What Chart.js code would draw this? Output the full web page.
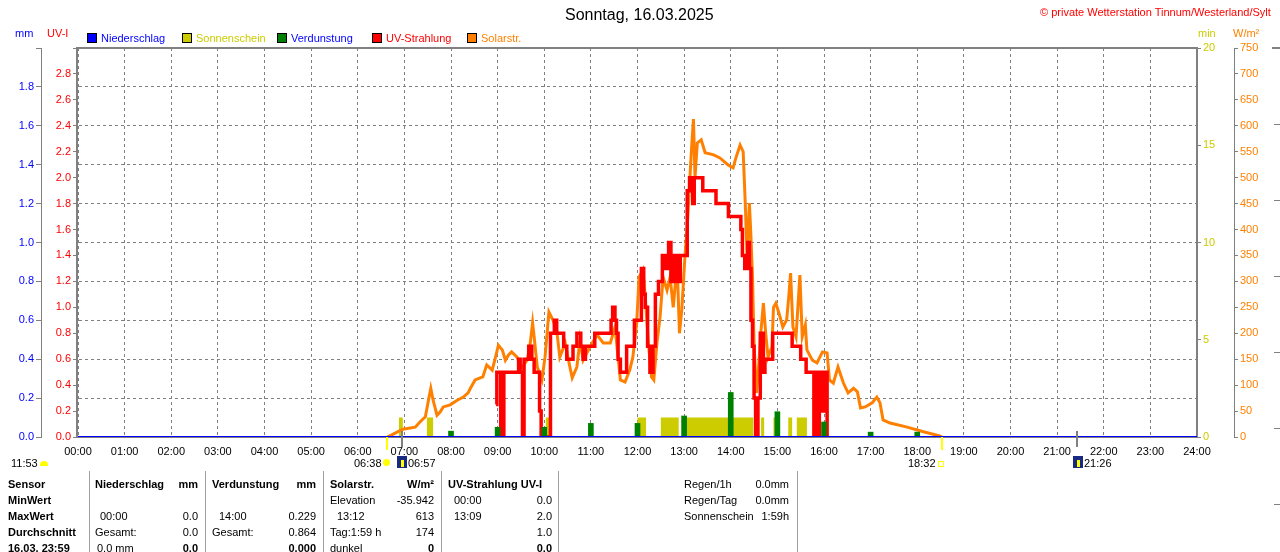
<!DOCTYPE html>
<html lang="de">
<head>
<meta charset="UTF-8">
<title>Sonntag, 16.03.2025</title>
<script src="https://cdn.jsdelivr.net/npm/chart.js"></script>
<style>
    body { margin: 0; background: #fff; font-family: 'Liberation Sans', Arial, sans-serif; font-size: 11px; color: #000; }
    #wrap { position: relative; width: 1280px; height: 552px; overflow: hidden; }
    #wrap canvas { position: absolute; left: 0; top: 0; }
    .t { position: absolute; white-space: nowrap; line-height: 14px; height: 14px; }
    .b { font-weight: bold; }
    .r { transform: translateX(-100%); }
    .box { position: absolute; top: 33px; width: 8px; height: 8px; border: 1px solid #000; }
    .sep { position: absolute; top: 471px; width: 1px; height: 81px; background: #a0a0a0; }
    .deco { position: absolute; background: #808080; }
</style>
</head>
<body>
<div id="wrap">
    <canvas id="chart" width="1280" height="552"></canvas>
</div>

<script>
    // Niederschlag (mm), hourly
    const rainTimes = ['00:00', '01:00', '02:00', '03:00', '04:00', '05:00', '06:00', '07:00', '08:00', '09:00', '10:00', '11:00', '12:00',
        '13:00', '14:00', '15:00', '16:00', '17:00', '18:00', '19:00', '20:00', '21:00', '22:00', '23:00', '24:00'];
    const rainValues = [0, 0, 0, 0, 0, 0, 0, 0, 0, 0, 0, 0, 0, 0, 0, 0, 0, 0, 0, 0, 0, 0, 0, 0, 0];

    // Verdunstung (mm), hourly
    const evapTimes = ['08:00', '09:00', '10:00', '11:00', '12:00', '13:00', '14:00', '15:00', '16:00', '17:00', '18:00'];
    const evapValues = [0.03, 0.05, 0.05, 0.07, 0.07, 0.108, 0.229, 0.13, 0.077, 0.025, 0.025];

    // Sonnenschein (min), value holds from the given time on
    const sunTimes = ['00:00', '06:53', '06:58', '07:29', '07:37', '10:02', '10:07', '12:00', '12:11', '12:30', '12:53', '12:57',
        '14:29', '14:39', '14:43', '14:55', '15:02', '15:14', '15:19', '15:25', '15:38', '24:00'];
    const sunValues = [0, 1, 0, 1, 0, 1, 0, 1, 0, 1, 0, 1, 0, 1, 0, 1, 0, 1, 0, 1, 0, 0];

    // UV-Strahlung (UV-I), value holds from the given time on
    const uvTimes = ['08:58', '08:59', '09:04', '09:08', '09:27', '09:29', '09:32', '09:34', '09:40', '09:44',
        '09:47', '09:54', '09:56', '10:08', '10:13', '10:16', '10:25', '10:29', '10:37', '10:42',
        '10:47', '10:50', '10:53', '11:05', '11:26', '11:28', '11:31', '11:33', '11:35', '11:38',
        '11:46', '11:56', '12:05', '12:08', '12:10', '12:13', '12:16', '12:20', '12:23', '12:27',
        '12:32', '12:36', '12:40', '12:43', '12:47', '12:51', '12:55', '13:04', '13:07', '13:11',
        '13:13', '13:24', '13:41', '13:57', '14:13', '14:15', '14:18', '14:22', '14:24', '14:26',
        '14:28', '14:30', '14:32', '14:35', '14:38', '14:42', '14:44', '14:54', '15:19', '15:30',
        '15:37', '15:47', '15:49', '15:52', '15:54', '15:58', '16:00', '16:04'];
    const uvValues = [0.25, 0.5, 0, 0.5, 0.6, 0.5, 0, 0.6, 0.7, 0.6,
        0.5, 0.2, 0, 0.8, 0.9, 0.8, 0.7, 0.6, 0.7, 0.8,
        0.7, 0.6, 0.7, 0.8, 0.9, 1.0, 0.9, 0.8, 0.6, 0.5,
        0.7, 0.9, 1.3, 1.1, 1.0, 0.7, 0.5, 0.7, 1.1, 1.2,
        1.4, 1.3, 1.5, 1.2, 1.4, 1.2, 1.4, 1.9, 2.0, 1.8,
        2.0, 1.9, 1.8, 1.7, 1.6, 1.4, 1.3, 1.5, 1.3, 0.9,
        0.7, 0.3, 0, 0.3, 0.8, 0.5, 0.6, 0.8, 0.7, 0.6,
        0.5, 0, 0.5, 0, 0.5, 0.2, 0.5, 0];

    // Solarstrahlung (W/m²)
    const solarTimes = ['06:38', '06:45', '06:58', '07:14', '07:20', '07:27', '07:31', '07:34', '07:37', '07:42',
        '07:46', '07:50', '07:59', '08:08', '08:16', '08:22', '08:25', '08:31', '08:41', '08:46',
        '08:53', '08:57', '09:01', '09:06', '09:10', '09:14', '09:18', '09:25', '09:31', '09:38',
        '09:42', '09:45', '09:47', '09:51', '09:57', '10:01', '10:06', '10:11', '10:16', '10:20',
        '10:27', '10:33', '10:36', '10:42', '10:46', '10:50', '10:59', '11:08', '11:16', '11:25',
        '11:31', '11:38', '11:44', '11:50', '11:54', '11:59', '12:02', '12:07', '12:10', '12:14',
        '12:18', '12:21', '12:25', '12:29', '12:33', '12:38', '12:42', '12:46', '12:51', '12:54',
        '12:57', '13:01', '13:04', '13:08', '13:10', '13:12', '13:14', '13:17', '13:22', '13:27',
        '13:38', '13:46', '13:57', '14:03', '14:07', '14:12', '14:16', '14:19', '14:21', '14:24',
        '14:26', '14:28', '14:30', '14:33', '14:35', '14:39', '14:42', '14:45', '14:48', '14:53',
        '14:55', '14:58', '15:02', '15:07', '15:12', '15:15', '15:17', '15:20', '15:24', '15:29',
        '15:32', '15:36', '15:38', '15:45', '15:51', '15:58', '16:04', '16:07', '16:12', '16:18',
        '16:25', '16:31', '16:38', '16:43', '16:47', '16:53', '17:02', '17:08', '17:12', '17:16',
        '17:25', '17:47', '18:08', '18:29', '18:32'];
    const solarValues = [0, 5, 15, 19, 29, 39, 71, 94, 71, 42,
        48, 58, 62, 71, 77, 85, 94, 110, 116, 139,
        129, 152, 177, 168, 148, 158, 164, 154, 133, 148,
        181, 220, 193, 135, 110, 154, 241, 226, 206, 154,
        181, 135, 114, 135, 187, 148, 174, 197, 181, 181,
        212, 110, 106, 129, 154, 220, 308, 322, 270, 181,
        116, 110, 181, 231, 308, 283, 308, 250, 335, 200,
        245, 347, 405, 515, 567, 613, 501, 567, 573, 548,
        544, 538, 524, 519, 540, 563, 550, 438, 341, 451,
        386, 308, 181, 85, 116, 206, 258, 200, 154, 174,
        250, 258, 239, 212, 226, 277, 316, 212, 193, 312,
        193, 216, 168, 148, 143, 164, 162, 110, 104, 135,
        104, 85, 94, 87, 56, 58, 66, 77, 66, 33,
        27, 19, 10, 2, 0];

    // Sonnen- und Mondauf-/untergang
    const riseSetTimes = ['06:38', '06:57', '18:32', '21:26'];
    const riseSetKinds = ['sun', 'moon', 'sun', 'moon'];

    const hm = s => { const p = s.split(':'); return +p[0] + p[1] / 60; };
    const pts = (times, vals) => times.map((t, i) => ({ x: hm(t), y: vals[i] }));

    // grey frame around the plot area
    const frame = {
        id: 'frame',
        beforeDatasetsDraw(chart) {
            const { ctx, chartArea: a } = chart;
            ctx.save();
            ctx.strokeStyle = '#808080';
            ctx.lineWidth = 2;
            ctx.strokeRect(a.left - 1, a.top, a.right - a.left + 1, a.bottom - a.top);
            ctx.restore();
        }
    };

    // small marks under the time axis for sunrise/sunset and moon
    const riseSet = {
        id: 'riseSet',
        afterDraw(chart) {
            const { ctx, chartArea: a, scales } = chart;
            ctx.save();
            ctx.lineWidth = 2;
            riseSetTimes.forEach((t, i) => {
                const x = Math.round(scales.x.getPixelForValue(hm(t)));
                const sun = riseSetKinds[i] === 'sun';
                ctx.strokeStyle = sun ? '#ffff00' : '#808080';
                ctx.beginPath();
                ctx.moveTo(x, a.bottom - (sun ? 0 : 6));
                ctx.lineTo(x, a.bottom + (sun ? 13 : 10));
                ctx.stroke();
            });
            ctx.restore();
        }
    };

    Chart.defaults.font.family = "'Liberation Sans', Arial, sans-serif";
    Chart.defaults.font.size = 11;

    new Chart(document.getElementById('chart'), {
        type: 'line',
        data: {
            datasets: [{
                label: 'Niederschlag',
                data: pts(rainTimes, rainValues),
                yAxisID: 'yMm',
                borderColor: '#0000ff',
                borderWidth: 2,
                pointRadius: 0,
                order: 0
            }, {
                type: 'bar',
                label: 'Verdunstung',
                data: pts(evapTimes, evapValues),
                yAxisID: 'yMm',
                backgroundColor: '#008000',
                barThickness: 5,
                order: 1
            }, {
                label: 'UV-Strahlung',
                data: pts(uvTimes, uvValues),
                yAxisID: 'yUv',
                borderColor: '#ff0000',
                borderWidth: 3.5,
                stepped: true,
                pointRadius: 0,
                order: 2
            }, {
                label: 'Solarstr.',
                data: pts(solarTimes, solarValues),
                yAxisID: 'yW',
                borderColor: '#ff8000',
                borderWidth: 3,
                pointRadius: 0,
                order: 3
            }, {
                label: 'Sonnenschein',
                data: pts(sunTimes, sunValues),
                yAxisID: 'yMin',
                borderWidth: 0,
                backgroundColor: '#cccc00',
                fill: 'origin',
                stepped: true,
                pointRadius: 0,
                order: 4
            }]
        },
        options: {
            responsive: false,
            animation: false,
            devicePixelRatio: 1,
            layout: { padding: { top: 48, left: 0, right: 0, bottom: 0 } },
            plugins: { legend: { display: false }, tooltip: { enabled: false } },
            scales: {
                x: {
                    type: 'linear',
                    offset: false,
                    min: 0,
                    max: 24,
                    ticks: {
                        stepSize: 1, autoSkip: false, maxRotation: 0, color: '#000', padding: 8,
                        callback: v => String(v).padStart(2, '0') + ':00'
                    },
                    grid: { color: '#808080', drawTicks: false, offset: false },
                    border: { display: false, dash: [3, 3] },
                    afterFit: s => { s.height = 115; }
                },
                yMm: {
                    position: 'left',
                    weight: 2,
                    min: 0,
                    max: 2,
                    ticks: { stepSize: 0.2, color: '#0000ff', padding: 2, callback: v => v > 1.95 ? '' : v.toFixed(1) },
                    grid: { color: '#808080', tickColor: '#808080', tickLength: 5 },
                    border: { display: true, color: '#808080', dash: [3, 3] },
                    afterFit: s => { s.width = 41; }
                },
                yUv: {
                    position: 'left',
                    weight: 1,
                    min: 0,
                    max: 3,
                    ticks: { stepSize: 0.2, color: '#ff0000', padding: 2, callback: v => v > 2.95 ? '' : v.toFixed(1) },
                    grid: { drawOnChartArea: false, tickColor: '#808080', tickLength: 5 },
                    border: { display: false },
                    afterFit: s => { s.width = 37; }
                },
                yMin: {
                    position: 'right',
                    weight: 1,
                    min: 0,
                    max: 20,
                    ticks: { stepSize: 5, color: '#cccc00', padding: 2 },
                    grid: { drawOnChartArea: false, tickColor: '#808080', tickLength: 4 },
                    border: { display: false },
                    afterFit: s => { s.width = 37; }
                },
                yW: {
                    position: 'right',
                    weight: 2,
                    min: 0,
                    max: 750,
                    ticks: { stepSize: 50, color: '#ff8000', padding: 2 },
                    grid: { drawOnChartArea: false, tickColor: '#808080', tickLength: 4 },
                    border: { display: true, color: '#808080' },
                    afterFit: s => { s.width = 46; }
                }
            }
        },
        plugins: [frame, riseSet]
    });

    // ---- texts around the chart ----
    const page = document.getElementById('wrap');

    function put(x, y, s, cls, color) {
        const d = document.createElement('div');
        d.className = 't ' + (cls || '');
        d.style.left = x + 'px';
        d.style.top = (y - 7) + 'px';
        if (color) d.style.color = color;
        d.textContent = s;
        page.appendChild(d);
        return d;
    }

    function block(cls, x, y, w, h, css) {
        const d = document.createElement('div');
        d.className = cls;
        d.style.left = x + 'px';
        d.style.top = y + 'px';
        if (w) d.style.width = w + 'px';
        if (h) d.style.height = h + 'px';
        Object.assign(d.style, css || {});
        page.appendChild(d);
        return d;
    }

    // title + copyright
    put(565, 15, 'Sonntag, 16.03.2025').style.fontSize = '16px';
    put(1040, 12, '© private Wetterstation Tinnum/Westerland/Sylt', '', '#ff0000');

    // axis titles
    put(15, 33, 'mm', '', '#0000ff');
    put(47, 33, 'UV-I', '', '#ff0000');
    put(1198, 33, 'min', '', '#cccc00');
    put(1233, 33, 'W/m²', '', '#ff8000');

    // legend
    [[87, '#0000ff', 'Niederschlag', '#0000ff'],
     [182, '#cccc00', 'Sonnenschein', '#cccc00'],
     [277, '#008000', 'Verdunstung', '#0000ff'],
     [372, '#ff0000', 'UV-Strahlung', '#ff0000'],
     [467, '#ff8000', 'Solarstr.', '#ff8000']].forEach(([x, fill, txt, col]) => {
        block('box', x, 33, 0, 0, { background: fill });
        put(x + 14, 38, txt, '', col);
    });

    // sun / moon row
    put(11, 463, '11:53');
    block('deco', 40, 461, 8, 5, { background: '#ffff00', borderRadius: '4px 4px 0 0' });
    put(354, 463, '06:38');
    block('deco', 383, 459, 7, 7, { background: '#ffff00', borderRadius: '50%' });
    block('deco', 397, 456, 10, 12, { background: '#1a2a80' });
    block('deco', 401, 460, 3, 7, { background: '#ffff00' });
    put(408, 463, '06:57');
    put(908, 463, '18:32');
    block('deco', 938, 461, 4, 4, { background: 'transparent', border: '1px solid #ffff00' });
    block('deco', 1073, 456, 10, 12, { background: '#1a2a80' });
    block('deco', 1077, 460, 3, 7, { background: '#ffff00' });
    put(1084, 463, '21:26');

    // far right edge remains
    block('deco', 1272, 47, 8, 2);
    [124, 200, 276, 352, 428, 504].forEach(y => block('deco', 1274, y, 6, 1));

    // table
    const rows = [484, 500, 516, 532, 548];
    ['Sensor', 'MinWert', 'MaxWert', 'Durchschnitt', '16.03. 23:59'].forEach((s, i) => put(8, rows[i], s, 'b'));
    [89, 205, 323, 441, 558, 797].forEach(x => block('sep', x, 471));

    put(95, rows[0], 'Niederschlag', 'b');
    put(198, rows[0], 'mm', 'b r');
    put(100, rows[2], '00:00');
    put(198, rows[2], '0.0', 'r');
    put(95, rows[3], 'Gesamt:');
    put(198, rows[3], '0.0', 'r');
    put(97, rows[4], '0.0 mm');
    put(198, rows[4], '0.0', 'b r');

    put(212, rows[0], 'Verdunstung', 'b');
    put(316, rows[0], 'mm', 'b r');
    put(219, rows[2], '14:00');
    put(316, rows[2], '0.229', 'r');
    put(212, rows[3], 'Gesamt:');
    put(316, rows[3], '0.864', 'r');
    put(316, rows[4], '0.000', 'b r');

    put(330, rows[0], 'Solarstr.', 'b');
    put(434, rows[0], 'W/m²', 'b r');
    put(330, rows[1], 'Elevation');
    put(434, rows[1], '-35.942', 'r');
    put(337, rows[2], '13:12');
    put(434, rows[2], '613', 'r');
    put(330, rows[3], 'Tag:1:59 h');
    put(434, rows[3], '174', 'r');
    put(330, rows[4], 'dunkel');
    put(434, rows[4], '0', 'b r');

    put(448, rows[0], 'UV-Strahlung UV-I', 'b');
    put(454, rows[1], '00:00');
    put(552, rows[1], '0.0', 'r');
    put(454, rows[2], '13:09');
    put(552, rows[2], '2.0', 'r');
    put(552, rows[3], '1.0', 'r');
    put(552, rows[4], '0.0', 'b r');

    put(684, rows[0], 'Regen/1h');
    put(789, rows[0], '0.0mm', 'r');
    put(684, rows[1], 'Regen/Tag');
    put(789, rows[1], '0.0mm', 'r');
    put(684, rows[2], 'Sonnenschein');
    put(789, rows[2], '1:59h', 'r');
</script>
</body>
</html>
